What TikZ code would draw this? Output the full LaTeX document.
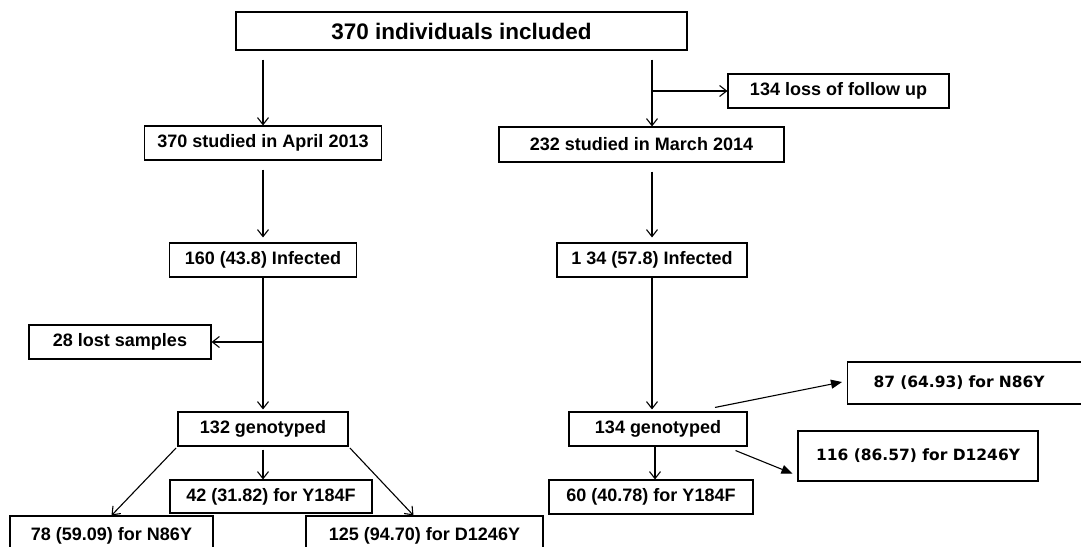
\documentclass[tikz,border=0pt]{standalone}
\usepackage{fontspec}
\setmainfont{Liberation Sans}
\newfontfamily\tahomalike{DejaVu Sans}
\usetikzlibrary{arrows.meta}
\tikzset{
  box/.style={draw=black, line width=1.1pt, inner sep=0pt, font=\fontsize{18}{21}\selectfont\bfseries},
  arr/.style={draw=black, line width=1.1pt, -{Straight Barb[length=7pt,width=11pt,line width=1.1pt]}},
  farr/.style={draw=black, line width=1.1pt, -{Triangle[length=11pt,width=9pt]}},
  tbox/.style={box, font=\fontsize{15.5}{19}\selectfont\tahomalike\bfseries}
}
\begin{document}
\begin{tikzpicture}[x=1pt,y=-1pt]
\useasboundingbox (0,0) rectangle (1081,546);
\clip (0,0) rectangle (1081,546);
\fill[white] (0,0) rectangle (1081,546);

% nodes
\node[box, minimum width=451pt, minimum height=38pt, font=\fontsize{22.5}{26}\selectfont\bfseries] (top) at (461.5,31) {370 individuals included};

\node[box, minimum width=237pt, minimum height=34pt] (a1) at (263,143) {370 studied in April 2013};
\node[box, minimum width=187pt, minimum height=34pt] (a2) at (263,260) {160 (43.8) Infected};
\node[box, minimum width=182pt, minimum height=34pt] (lost) at (120,342) {28 lost samples};
\node[box, minimum width=170pt, minimum height=34pt] (a3) at (263,429) {132 genotyped};
\node[box, minimum width=202pt, minimum height=33pt] (y1) at (271,496.5) {42 (31.82) for Y184F};
\node[box, minimum width=203pt, minimum height=40pt] (n1) at (111.5,536) {78 (59.09) for N86Y};
\node[box, minimum width=237pt, minimum height=40pt] (d1) at (424.5,536) {125 (94.70) for D1246Y};

\node[box, minimum width=285pt, minimum height=35pt] (b1) at (641.5,144.5) {232 studied in March 2014};
\node[box, minimum width=221pt, minimum height=34pt] (loss) at (838.5,91) {134 loss of follow up};
\node[box, minimum width=190pt, minimum height=34pt] (b2) at (652,260) {1 34 (57.8) Infected};
\node[box, minimum width=178pt, minimum height=34pt] (b3) at (658,429) {134 genotyped};
\node[box, minimum width=204pt, minimum height=34pt] (y2) at (651,497) {60 (40.78) for Y184F};
\node[tbox, anchor=west, text width=215pt, align=left, inner xsep=26pt, minimum height=42pt] (n2) at (847,383) {87 (64.93) for N86Y};
\node[tbox, minimum width=240pt, minimum height=50pt] (d2) at (918,456) {116 (86.57) for D1246Y};

% left column connectors
\draw[arr, shorten <=9pt] (top.south -| a1.north) -- (a1.north);
\draw[arr, shorten <=9pt, shorten >=5pt] (a1.south) -- (a2.north);
\draw[arr, shorten >=2pt] (a2.south) -- (a3.north);
\draw[arr] (lost.east -| a3.north) -- (lost.east);
\draw[arr, shorten <=3pt] (a3.south) -- (a3.south |- y1.north);
\draw[arr, shorten <=2pt] (a3.south west) -- (n1.north);
\draw[arr, shorten <=2pt] (a3.south east) -- ([xshift=-11pt]d1.north);

% right column connectors
\draw[arr, shorten <=9pt] (top.south -| b2.north) -- (b1.north -| b2.north);
\draw[arr] (loss.west -| b2.north) -- (loss.west);
\draw[arr, shorten <=9pt, shorten >=5pt] (b1.south -| b2.north) -- (b2.north);
\draw[arr, shorten >=2pt] (b2.south) -- (b2.south |- b3.north);
\draw[arr] ([xshift=-3pt]b3.south) -- ([xshift=-3pt]b3.south |- y2.north);
\draw[farr] ([xshift=57pt,yshift=4pt]b3.north) -- ([xshift=-5pt,yshift=1pt]n2.west);
\draw[farr] ([xshift=-12pt,yshift=-4pt]b3.south east) -- ([xshift=-5pt,yshift=8pt]d2.south west);
\end{tikzpicture}
\end{document}
